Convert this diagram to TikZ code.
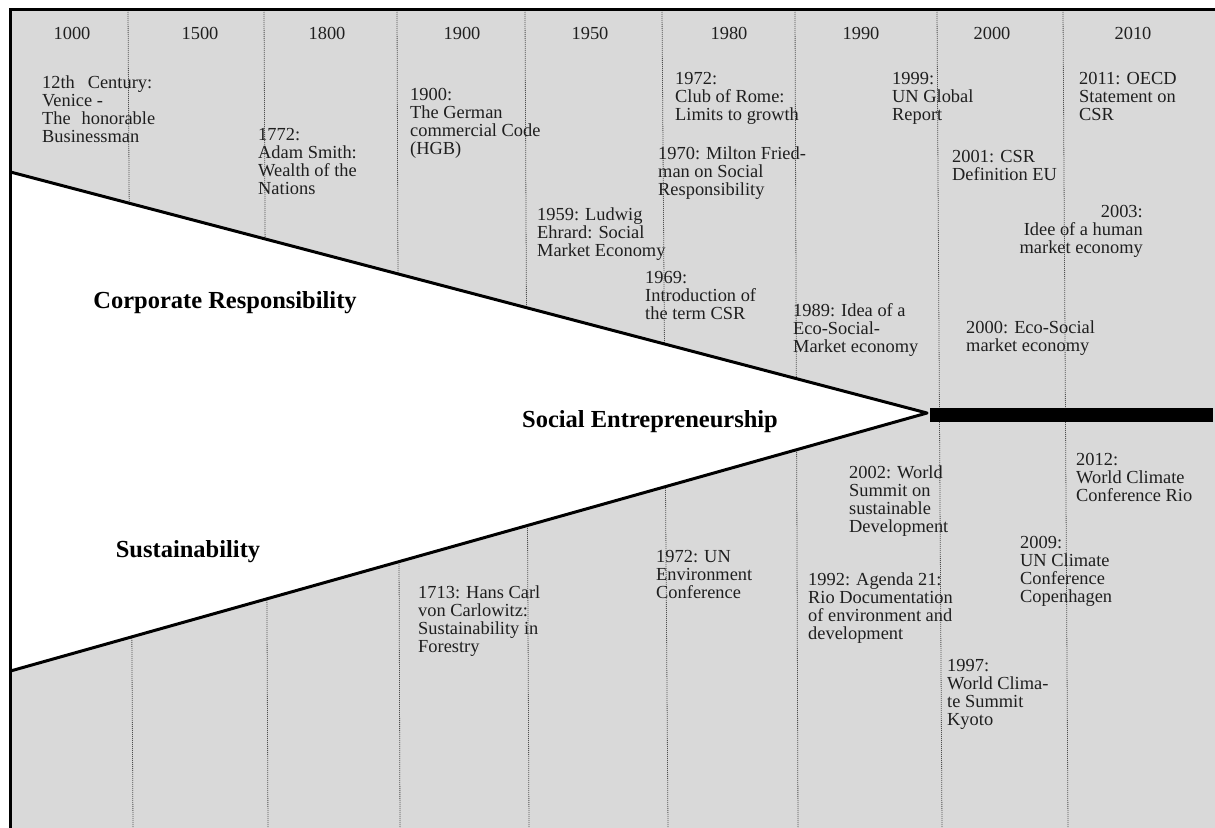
\documentclass[tikz,border=0pt]{standalone}
\usepackage{fontspec}
\setmainfont{Liberation Serif}
\definecolor{bg}{RGB}{217,217,217}
\definecolor{dotc}{RGB}{80,80,80}
\begin{document}
\begin{tikzpicture}[x=1bp,y=-1bp,
  txt/.style={font=\fontsize{18.4bp}{18bp}\selectfont, inner sep=0pt, text=black!88},
  evt/.style={txt, anchor=north west, align=left},
  yr/.style={txt, anchor=base},
  big/.style={font=\fontsize{24.5bp}{26bp}\selectfont\bfseries, inner sep=0pt, anchor=base},
  gridline/.style={dotc, line width=0.8bp, dash pattern=on 1bp off 1bp},
  wedgeline/.style={line width=3bp, line join=round},
  frame/.style={line width=3.5bp}
]
\useasboundingbox (0,0) rectangle (1215,828);
% background
\fill[bg] (10.5,9.7) rectangle (1215,828);
% dotted grid lines
\foreach \xt/\xb in {128/133,264/268,397/400,525/529,662/668,795/798,937/942,1063/1068}
  \draw[gridline] (\xt,10) -- (\xb,828);
% wedge
\coordinate (tl) at (10.5,172);
\coordinate (apex) at (927,413);
\coordinate (bl) at (10.5,671);
\fill[white] (tl) -- (apex) -- (bl) -- cycle;
\draw[wedgeline] (tl) -- (apex) -- (bl);
% bar
\fill[black] (930,408) rectangle (1213,422);
% frame
\draw[frame] (10.5,828) -- (10.5,9.7) -- (1215,9.7);

% years
\node[yr] (y1000) at (72,39.5) {1000};
\node[yr] (y1500) at (200,39.5) {1500};
\node[yr] (y1800) at (327,39.5) {1800};
\node[yr] (y1900) at (462,39.5) {1900};
\node[yr] (y1950) at (590,39.5) {1950};
\node[yr] (y1980) at (729,39.5) {1980};
\node[yr] (y1990) at (861,39.5) {1990};
\node[yr] (y2000) at (992,39.5) {2000};
\node[yr] (y2010) at (1133,39.5) {2010};

% big labels
\node[big] (cr) at (225,308) {Corporate Responsibility};
\node[big] (se) at (650,427) {Social Entrepreneurship};
\node[big] (su) at (188,557) {Sustainability};

% events
\node[evt] (e12c) at (42,76) {\makebox[110bp][s]{12th Century:}\\Venice -\\\makebox[113bp][s]{The honorable}\\Businessman};
\node[evt] (e1772) at (258,128) {1772:\\Adam Smith:\\Wealth of the\\Nations};
\node[evt] (e1900) at (410,88) {1900:\\The German\\commercial Code\\(HGB)};
\node[evt] (e1972a) at (675,72) {1972:\\Club of Rome:\\Limits to growth};
\node[evt] (e1970) at (658,147) {1970: Milton Fried-\\man on Social\\Responsibility};
\node[evt] (e1959) at (537,208) {1959: Ludwig\\Ehrard: Social\\Market Economy};
\node[evt] (e1969) at (645,271) {1969:\\Introduction of\\the term CSR};
\node[evt] (e1999) at (892,72) {1999:\\UN Global\\Report};
\node[evt] (e2011) at (1079,72) {2011: OECD\\Statement on\\CSR};
\node[evt] (e2001) at (952,150) {2001: CSR\\Definition EU};
\node[txt, anchor=north east, align=right] (e2003) at (1143,205) {2003:\\Idee of a human\\market economy};
\node[evt] (e1989) at (793,303) {1989: Idea of a\\Eco-Social-\\Market economy};
\node[evt] (e2000) at (966,321) {2000: Eco-Social\\market economy};
\node[evt] (e2002) at (849,466) {2002: World\\Summit on\\sustainable\\Development};
\node[evt] (e2012) at (1076,453) {2012:\\World Climate\\Conference Rio};
\node[evt] (e2009) at (1020,536) {2009:\\UN Climate\\Conference\\Copenhagen};
\node[evt] (e1713) at (418,586) {1713: Hans Carl\\von Carlowitz:\\Sustainability in\\Forestry};
\node[evt] (e1972b) at (656,550) {1972: UN\\Environment\\Conference};
\node[evt] (e1992) at (808,573) {1992: Agenda 21:\\Rio Documentation\\of environment and\\development};
\node[evt] (e1997) at (947,659) {1997:\\World Clima-\\te Summit\\Kyoto};
\end{tikzpicture}
\end{document}
